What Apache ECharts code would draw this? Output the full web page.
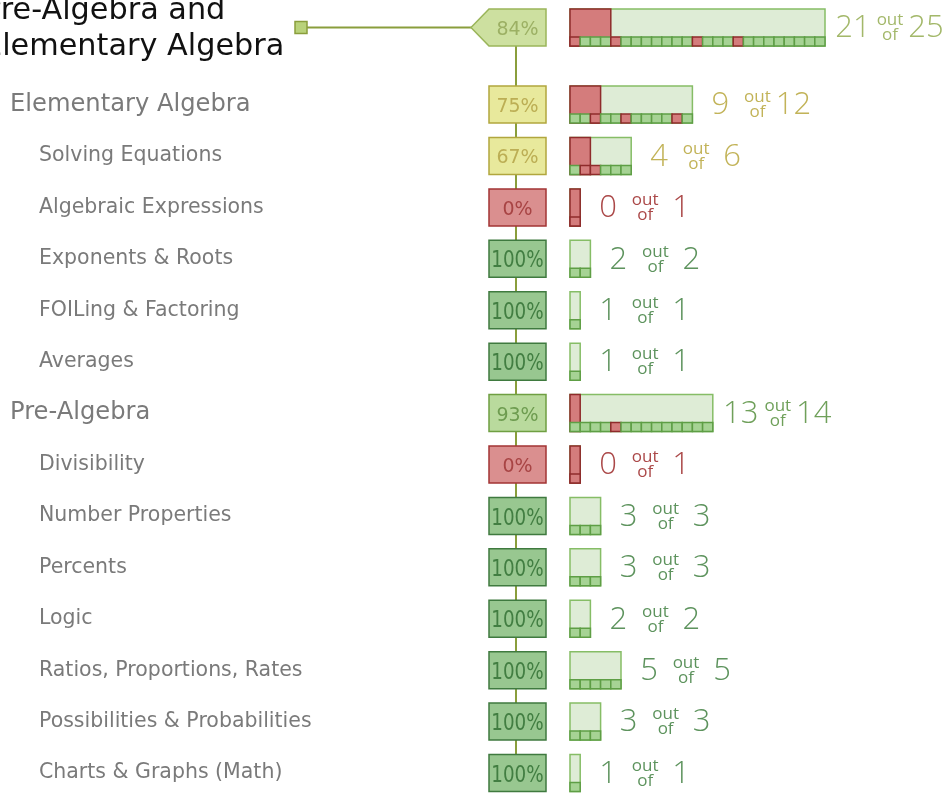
<!DOCTYPE html>
<html style="height: 100%">
   <head>
       <meta charset="utf-8">
   </head>
   <body style="height: 100%; margin: 0; background: #fff">
       <div id="container" style="width: 945px; height: 794px"></div>
       <script type="text/javascript" src="https://cdn.jsdelivr.net/npm/echarts@6/dist/echarts.min.js"></script>
       <script type="text/javascript">
// one row per topic, top one is the parent of everything
var topics = ['Pre-Algebra and\nElementary Algebra', 'Elementary Algebra', 'Solving Equations',
    'Algebraic Expressions', 'Exponents & Roots', 'FOILing & Factoring', 'Averages',
    'Pre-Algebra', 'Divisibility', 'Number Properties', 'Percents', 'Logic',
    'Ratios, Proportions, Rates', 'Possibilities & Probabilities', 'Charts & Graphs (Math)'];
var levels = [0, 1, 2, 2, 2, 2, 2, 1, 2, 2, 2, 2, 2, 2, 2];
var correct = [21, 9, 4, 0, 2, 1, 1, 13, 0, 3, 3, 2, 5, 3, 1];
var total = [25, 12, 6, 1, 2, 1, 1, 14, 1, 3, 3, 2, 5, 3, 1];
// which questions (by position) were missed
var missed = [[0, 4, 12, 16], [2, 5, 10], [1, 2], [0], [], [], [], [4], [0], [], [], [], [], [], []];

var dom = document.getElementById("container");
var myChart = echarts.init(dom);

var styles = {
    ok:   {fill: '#cde0a0', stroke: '#9ab55a', text: '#9cb064', count: '#a3b86a'},
    good: {fill: '#b9da9d', stroke: '#6f9f42', text: '#6e9c50', count: '#6fa05a'},
    fair: {fill: '#e8e99c', stroke: '#b1a63e', text: '#bcae54', count: '#c2b358'},
    poor: {fill: '#da8f8f', stroke: '#a33434', text: '#a84444', count: '#ab4848'},
    full: {fill: '#98c790', stroke: '#3f7a3f', text: '#427e42', count: '#5d935d'}
};
function styleFor(pct) {
    if (pct >= 100) return styles.full;
    if (pct >= 90) return styles.good;
    if (pct >= 80) return styles.ok;
    if (pct >= 50) return styles.fair;
    return styles.poor;
}

// parent row gets a bit of extra room below it
var yPos = [];
var extra = 0;
levels.forEach(function (lv, i) {
    yPos.push(i + extra);
    if (lv === 0) extra += 0.5;
});

var data = topics.map(function (t, i) {
    return [total[i], yPos[i], i];
});

var labelFont = '"DejaVu Sans", Verdana, sans-serif';
var numFont = '"Open Sans", "DejaVu Sans", sans-serif';

function renderItem(params, api) {
    var i = api.value(2);
    var n = api.value(0);
    var yv = api.value(1);
    var p0 = api.coord([0, yv]);
    var p1 = api.coord([n, yv]);
    var unit = api.size([1, 0])[0];
    var cy = p0[1];
    var h = 37, sh = 9;
    var top = cy - h / 2;
    var pct = Math.round(correct[i] / total[i] * 100);
    var st = styleFor(pct);
    var children = [];

    if (levels[i] === 0) {
        var lastY = api.coord([0, yPos[yPos.length - 1]])[1];
        children.push({type: 'line', shape: {x1: 516, y1: cy, x2: 516, y2: lastY},
            style: {stroke: '#8a9e3c', lineWidth: 2}});
        children.push({type: 'line', shape: {x1: 306, y1: cy, x2: 472, y2: cy},
            style: {stroke: '#8a9e3c', lineWidth: 2}});
        children.push({type: 'rect', shape: {x: 295, y: cy - 6, width: 12, height: 12},
            style: {fill: '#b9d27a', stroke: '#8a9e3c', lineWidth: 1.5}});
        children.push({type: 'polygon', shape: {points: [[471, cy], [489, top], [546, top], [546, top + h], [489, top + h]]},
            style: {fill: st.fill, stroke: st.stroke, lineWidth: 1.5}});
        children.push({type: 'text', style: {text: topics[i], x: -17, y: cy + 2, fill: '#111',
            fontSize: 30.3, lineHeight: 36, fontFamily: labelFont, verticalAlign: 'middle'}});
    } else {
        children.push({type: 'rect', shape: {x: 489, y: top, width: 57, height: h},
            style: {fill: st.fill, stroke: st.stroke, lineWidth: 1.5}});
        children.push({type: 'text', style: {text: topics[i], x: levels[i] === 1 ? 10 : 39, y: cy,
            fill: '#7a7a7a', fontSize: levels[i] === 1 ? 24.2 : 20.5,
            fontFamily: labelFont, verticalAlign: 'middle'}});
    }
    // "100%" is squeezed to fit the badge
    var pctText = pct + '%';
    children.push({type: 'text', x: 517.5, y: cy + 2.5,
        scaleX: pct >= 100 ? 0.78 : 1,
        style: {text: pctText, x: 0, y: 0, fill: st.text,
            fontSize: pct >= 100 ? 23.5 : 19, fontFamily: labelFont, align: 'center', verticalAlign: 'middle'}});

    // bar
    var w = p1[0] - p0[0];
    var miss = total[i] - correct[i];
    children.push({type: 'rect', shape: {x: p0[0], y: top, width: w, height: h},
        style: {fill: '#deecd6', stroke: '#86bd66', lineWidth: 1.5}});
    if (miss > 0) {
        children.push({type: 'rect', shape: {x: p0[0], y: top, width: miss * unit, height: h},
            style: {fill: '#d47c7c', stroke: '#8e2b2b', lineWidth: 1.5}});
    }
    for (var k = 0; k < n; k++) {
        var bad = missed[i].indexOf(k) >= 0;
        children.push({type: 'rect', shape: {x: p0[0] + k * unit, y: top + h - sh, width: unit, height: sh},
            style: {fill: bad ? '#d47c7c' : '#a6d394', stroke: bad ? '#8e2b2b' : '#5e9e45', lineWidth: 1.5}});
    }

    // "x out of y"
    var ex = p1[0];
    children.push({type: 'text', style: {text: String(correct[i]), x: ex + 28, y: cy + 1, fill: st.count,
        fontSize: 31, fontWeight: 300, fontFamily: numFont, align: 'center', verticalAlign: 'middle'}});
    children.push({type: 'text', style: {text: 'out', x: ex + 65, y: cy - 7, fill: st.count,
        fontSize: 17, fontFamily: numFont, align: 'center', verticalAlign: 'middle'}});
    children.push({type: 'text', style: {text: 'of', x: ex + 65, y: cy + 8, fill: st.count,
        fontSize: 17, fontFamily: numFont, align: 'center', verticalAlign: 'middle'}});
    children.push({type: 'text', style: {text: String(total[i]), x: ex + 101, y: cy + 1, fill: st.count,
        fontSize: 31, fontWeight: 300, fontFamily: numFont, align: 'center', verticalAlign: 'middle'}});

    return {type: 'group', children: children};
}

var option = {
    animation: false,
    backgroundColor: '#fff',
    grid: {left: 570, top: 1.7, width: 357, height: 791.9},
    xAxis: {type: 'value', min: 0, max: 35, show: false},
    yAxis: {type: 'value', min: -0.5, max: 14.9, inverse: true, show: false},
    series: [{
        type: 'custom',
        clip: false,
        renderItem: renderItem,
        data: data
    }]
};
myChart.setOption(option);
       </script>
   </body>
</html>
